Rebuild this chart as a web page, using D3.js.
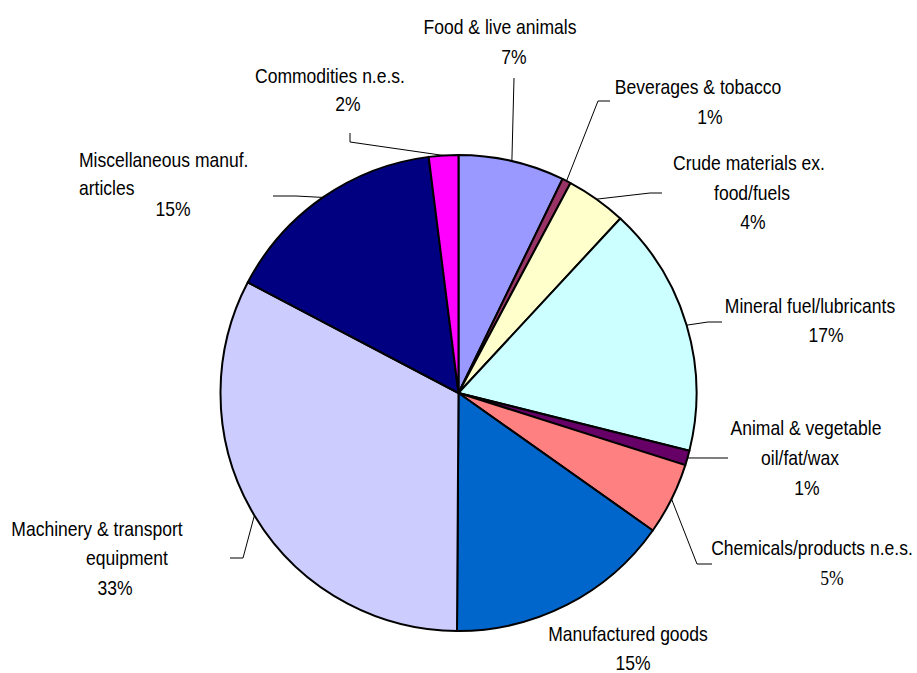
<!DOCTYPE html>
<html>
<head>
<meta charset="utf-8">
<script src="https://cdn.jsdelivr.net/npm/d3@7/dist/d3.min.js"></script>
<style>
  html, body { margin: 0; padding: 0; background: #fff; }
  svg { display: block; }
  .lbl { font-family: "Liberation Sans Narrow", "Arial Narrow", "Liberation Sans", Arial, sans-serif; font-size: 21px; fill: #000; }
  .serif { font-family: "Liberation Serif", "Times New Roman", serif; }
</style>
</head>
<body>
<svg id="chart" width="917" height="673"></svg>
<script>
// Export composition by commodity group (share of total, %)
const categories = [
  "Food & live animals",
  "Beverages & tobacco",
  "Crude materials ex. food/fuels",
  "Mineral fuel/lubricants",
  "Animal & vegetable oil/fat/wax",
  "Chemicals/products n.e.s.",
  "Manufactured goods",
  "Machinery & transport equipment",
  "Miscellaneous manuf. articles",
  "Commodities n.e.s."
];
const shares = [7.2, 0.6, 4.1, 17.0, 1.0, 4.9, 15.3, 32.6, 15.3, 2.0];
const colors = ["#9999FF", "#993366", "#FFFFCC", "#CCFFFF", "#660066",
                "#FF8080", "#0066CC", "#CCCCFF", "#000080", "#FF00FF"];

// Label text lines per slice; the last line holds the percentage
const labelLines = [
  ["Food & live animals"],
  ["Beverages & tobacco"],
  ["Crude materials ex.", "food/fuels"],
  ["Mineral fuel/lubricants"],
  ["Animal & vegetable", "oil/fat/wax"],
  ["Chemicals/products n.e.s."],
  ["Manufactured goods"],
  ["Machinery & transport", "equipment"],
  ["Miscellaneous manuf.", "articles"],
  ["Commodities n.e.s."]
];

// Label placement: each line [x, baseline, anchor, extra class]; leader: [end point, elbow] or null
const labelLayout = [
  { lines: [[500, 34, "middle"], [514, 64, "middle"]], leader: [[514, 78], null] },
  { lines: [[698, 94, "middle"], [710, 124, "middle"]], leader: [[610, 101], [598, 101]] },
  { lines: [[749, 170, "middle"], [752, 200, "middle"], [753, 229, "middle"]], leader: [[662, 193], [650, 193]] },
  { lines: [[810, 313, "middle"], [826, 342, "middle"]], leader: [[722, 322], [708, 322]] },
  { lines: [[806, 435, "middle"], [800, 465, "middle"], [807, 495, "middle"]], leader: [[728, 458], [716, 458]] },
  { lines: [[812, 555, "middle"], [832, 585, "middle", "serif"]], leader: [[712, 564], [697, 564]] },
  { lines: [[628, 641, "middle"], [633, 670, "middle"]], leader: null },
  { lines: [[97, 536, "middle"], [127, 565, "middle"], [115, 595, "middle"]], leader: [[230, 558], [243, 558]] },
  { lines: [[79, 167, "start"], [79, 195, "start"], [173, 216, "middle"]], leader: [[273, 196], [296, 196]] },
  { lines: [[330, 83, "middle"], [348, 111, "middle"]], leader: [[350, 133], [350, 142]] }
];

// Horizontal condensing of the label face
const textScaleX = 0.835;

const svg = d3.select("#chart");
const cx = 458.5, cy = 393, radius = 238;

const data = categories.map((c, i) => ({ name: c, value: shares[i], color: colors[i], idx: i }));
const total = d3.sum(shares);

const pie = d3.pie().sort(null).value(d => d.value);
const arcs = pie(data);
const arc = d3.arc().innerRadius(0).outerRadius(radius);

const g = svg.append("g").attr("transform", `translate(${cx},${cy})`);

g.selectAll("path.slice")
  .data(arcs)
  .join("path")
  .attr("class", "slice")
  .attr("d", arc)
  .attr("fill", d => d.data.color)
  .attr("stroke", "#000")
  .attr("stroke-width", 2)
  .attr("stroke-linejoin", "round");

// Leader lines from label to the slice rim
arcs.forEach(a => {
  const lay = labelLayout[a.data.idx];
  if (!lay.leader) return;
  const mid = (a.startAngle + a.endAngle) / 2;
  const ex = cx + radius * Math.sin(mid);
  const ey = cy - radius * Math.cos(mid);
  const pts = [lay.leader[0]];
  if (lay.leader[1]) pts.push(lay.leader[1]);
  pts.push([ex, ey]);
  svg.append("path")
    .attr("d", d3.line()(pts))
    .attr("fill", "none")
    .attr("stroke", "#000")
    .attr("stroke-width", 1);
});

// Labels: category name lines followed by the percentage
const fmtPct = v => Math.round(v / total * 100) + "%";
data.forEach((d, i) => {
  const lines = labelLines[i].concat([fmtPct(d.value)]);
  const lay = labelLayout[i];
  lines.forEach((txt, k) => {
    const p = lay.lines[k];
    svg.append("text")
      .attr("class", "lbl" + (p[3] ? " " + p[3] : ""))
      .attr("transform", `translate(${p[0]},${p[1]}) scale(${textScaleX},1)`)
      .attr("text-anchor", p[2])
      .text(txt);
  });
});
</script>
</body>
</html>
